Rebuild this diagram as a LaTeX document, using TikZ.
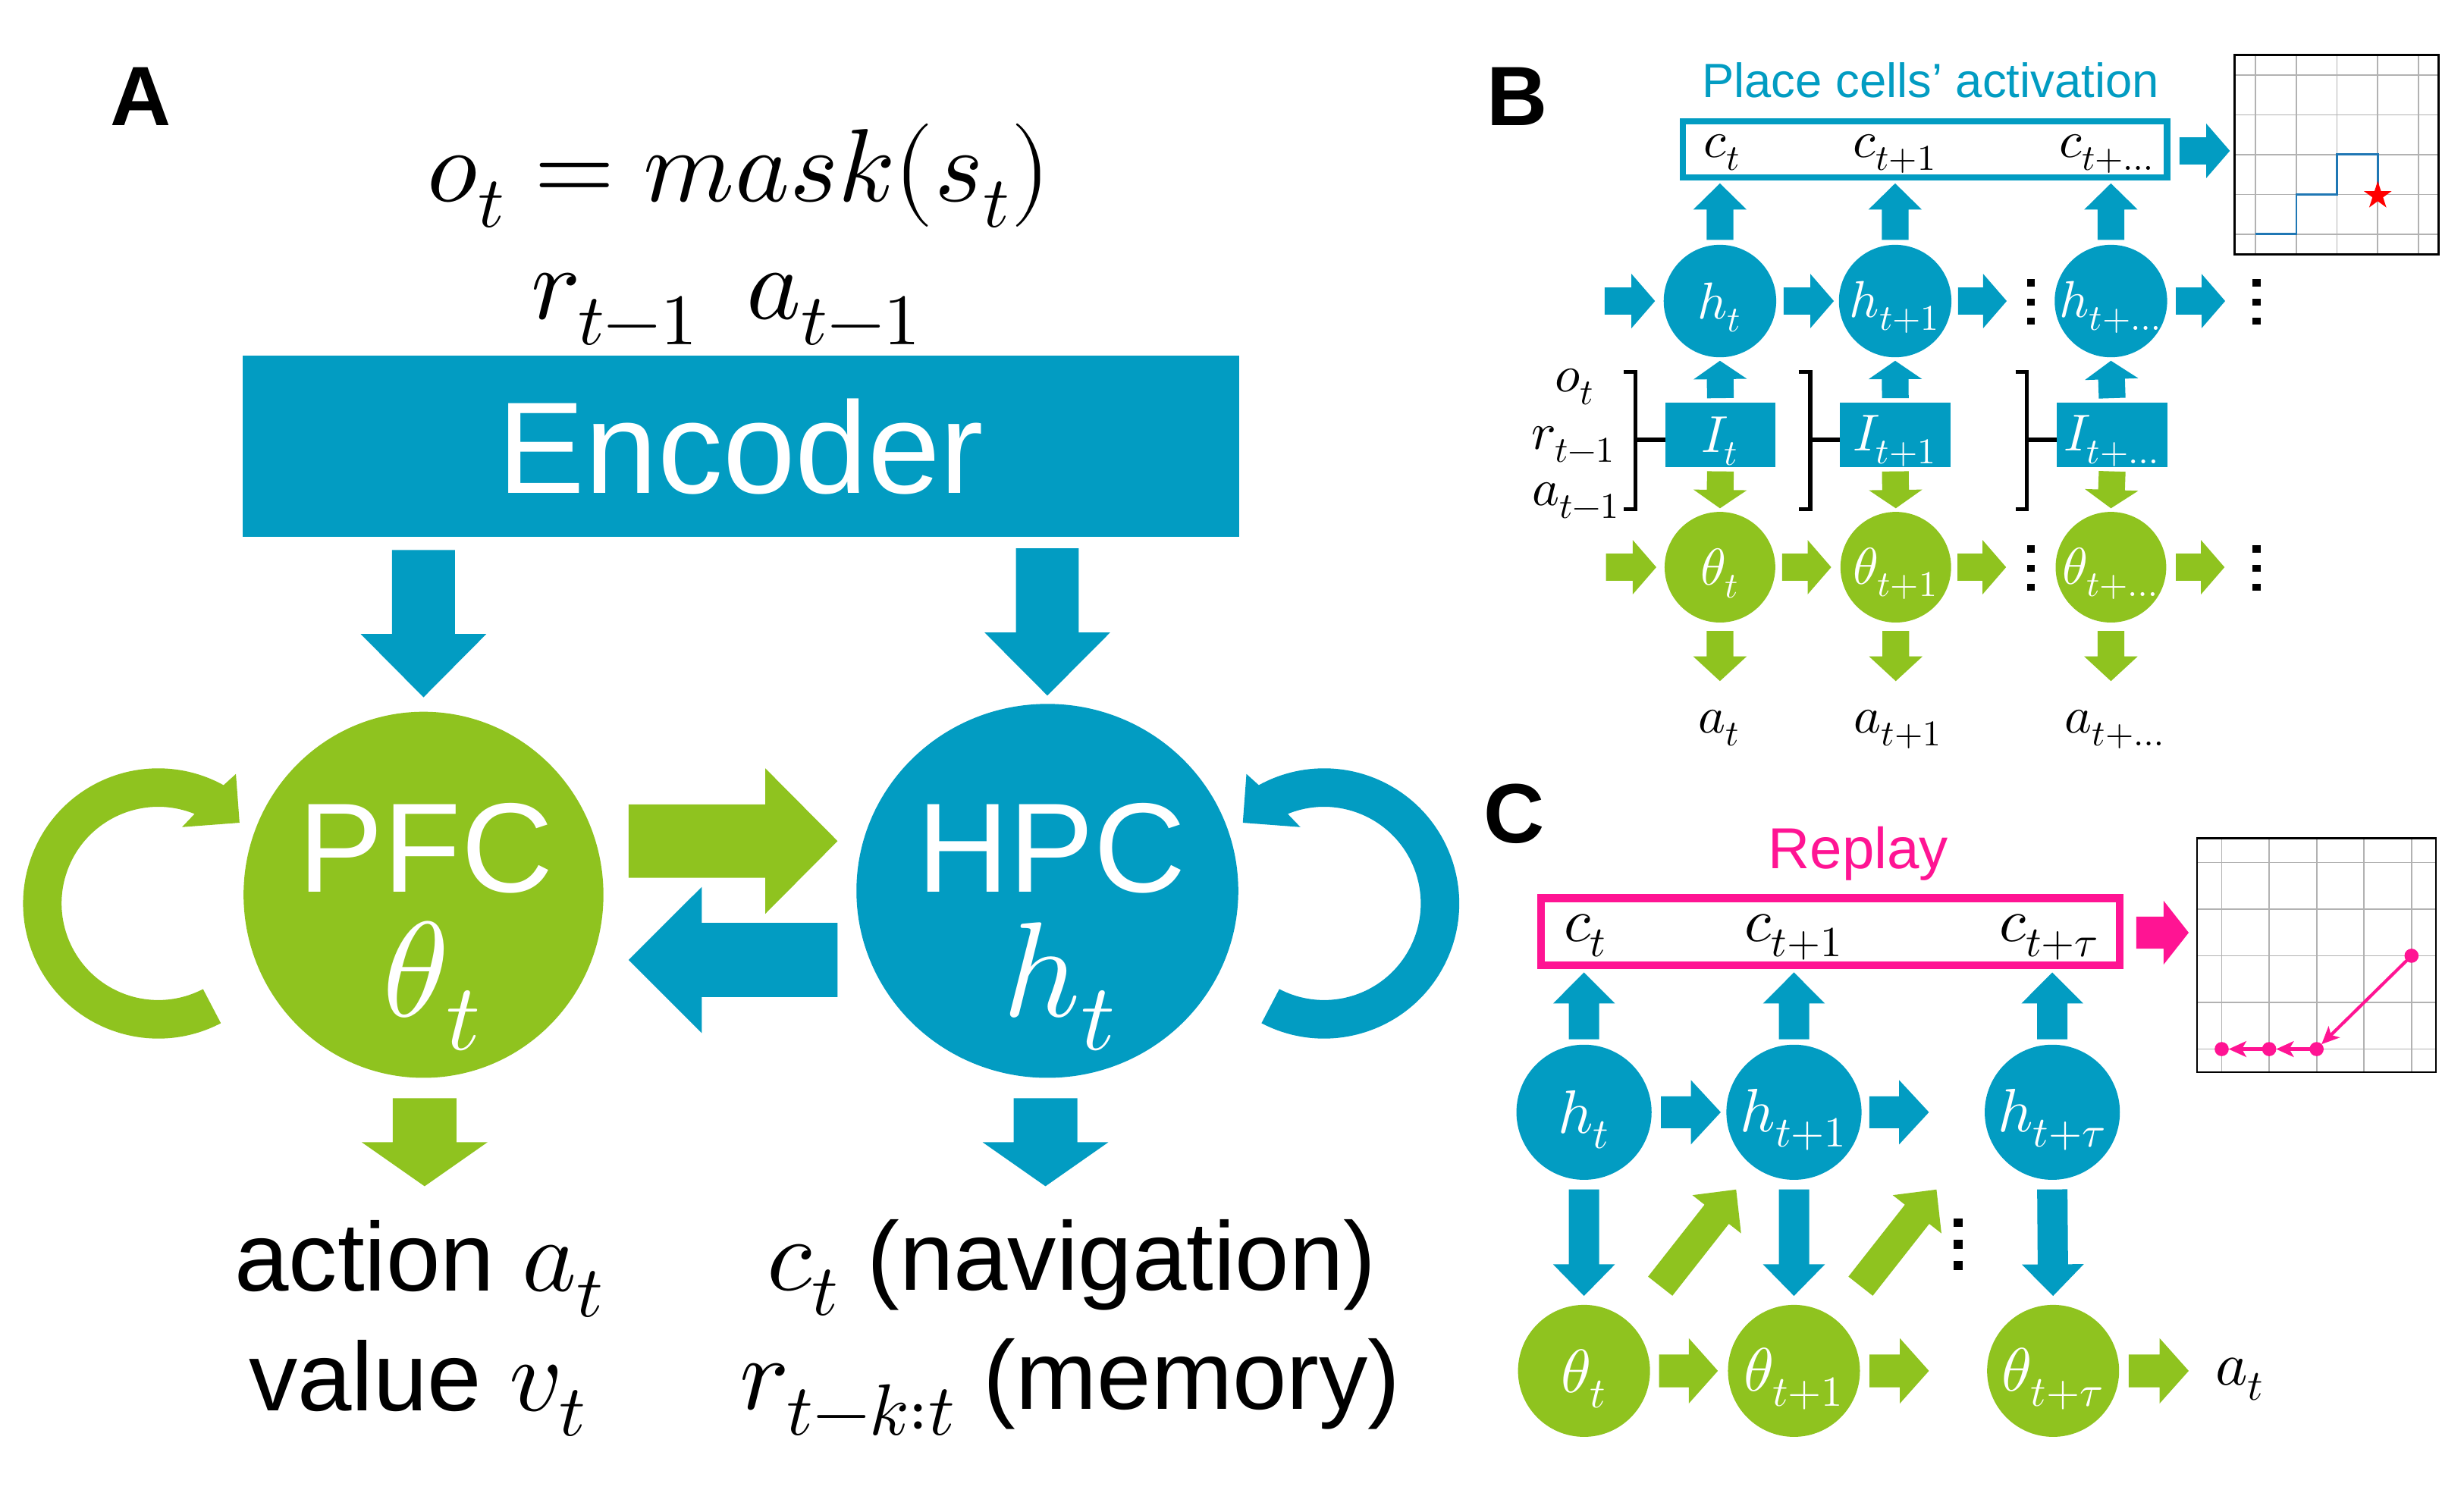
\documentclass[tikz,border=0pt]{standalone}
\usepackage{fontspec}
\usepackage{unicode-math}
\setmathfont{Latin Modern Math}
\newfontfamily\arial{Liberation Sans}
\usetikzlibrary{calc,shapes.geometric,arrows.meta}
\definecolor{cblue}{RGB}{2,156,194}
\definecolor{cgreen}{RGB}{143,195,31}
\definecolor{cpink}{RGB}{255,20,147}
\definecolor{pathblue}{RGB}{31,119,180}
\definecolor{gridgray}{RGB}{178,178,178}
% block arrow: #1 colour, #2 start, #3 tip, #4 shaft width, #5 head width, #6 head length (px)
\newcommand{\barr}[6]{%
  \fill[#1] let \p1=#2, \p2=#3, \n1={atan2(\y2-\y1,\x2-\x1)} in
    ($(\p1)+({\n1+90}:{#4*0.25pt})$)
    -- ($(\p2)+({\n1+180}:{#6*0.5pt})+({\n1+90}:{#4*0.25pt})$)
    -- ($(\p2)+({\n1+180}:{#6*0.5pt})+({\n1+90}:{#5*0.25pt})$)
    -- (\p2)
    -- ($(\p2)+({\n1+180}:{#6*0.5pt})+({\n1-90}:{#5*0.25pt})$)
    -- ($(\p2)+({\n1+180}:{#6*0.5pt})+({\n1-90}:{#4*0.25pt})$)
    -- ($(\p1)+({\n1-90}:{#4*0.25pt})$) -- cycle;}
\newcommand{\vdts}[5]{% x, y, spacing, w, h
  \foreach \dy in {-#3,0,#3}{\fill (#1-#4/2,#2+\dy-#5/2) rectangle ++(#4,#5);}}
\begin{document}
\begin{tikzpicture}[x=0.5pt,y=-0.5pt,
  every node/.style={inner sep=0pt,outer sep=0pt},
  lab/.style={font=\arial\bfseries\fontsize{26.8}{30}\selectfont,anchor=base west},
  mathA/.style={font=\fontsize{33}{38}\selectfont,anchor=base},
  txtA/.style={font=\arial\fontsize{31}{36}\selectfont,anchor=base},
  bigtxt/.style={font=\arial\fontsize{40.5}{46}\selectfont,text=white,anchor=base},
  bigmath/.style={font=\fontsize{43}{48}\selectfont,text=white,anchor=base},
  mB/.style={font=\fontsize{16.5}{19}\selectfont},
  wB/.style={font=\fontsize{16.5}{19}\selectfont,text=white,yshift=-2pt},
  mC/.style={font=\fontsize{19.5}{22}\selectfont},
  wC/.style={font=\fontsize{19.5}{22}\selectfont,text=white,yshift=-2.5pt},
  circ/.style={circle,minimum size=#1},
  brk/.style={draw=black,line width=1.3pt,line join=miter},
  gridln/.style={draw=gridgray,line width=0.4pt},
  gbox/.style={rectangle,draw=black,line width=0.6pt},
  pinkarr/.style={draw=cpink,line width=1pt,-{Stealth[length=5.6pt,width=5pt,inset=1.4pt]},shorten >=2.2pt}
]
\useasboundingbox (0,0) rectangle (1568,950);

% ================= Panel A =================
\node[lab] (labA) at (70,80) {A};
\node[mathA] (obs) at (470.5,128) {$o_t = mask(s_t)$};
\node[mathA,anchor=base west] (rprev) at (338,203) {$r_{t-1}$};
\node[mathA,anchor=base west] (aprev) at (475,203) {$a_{t-1}$};

\node[rectangle,fill=cblue,minimum width=317.05pt,minimum height=57.6pt,
      font=\arial\fontsize{41.5}{48}\selectfont,text=white] (enc) at (471.55,284.1) {Encoder};

\node[ellipse,fill=cgreen,minimum width=114.5pt,minimum height=116.5pt] (pfc) at (269.5,569.5) {};
\node[ellipse,fill=cblue,minimum width=121.5pt,minimum height=119pt] (hpc) at (666.5,567) {};
\node[bigtxt] (pfcT) at (271,568) {PFC};
\node[bigmath] (pfcM) at (275,647) {$\theta_t$};
\node[bigtxt] (hpcT) at (669,568) {HPC};
\node[bigmath] (hpcM) at (674.5,647) {$h_t$};

\barr{cblue}{($(enc.south -| pfc.center)+(0,8.3)$)}{($(pfc.north)+(0,-9.2)$)}{40}{80}{40.3}
\barr{cblue}{($(enc.south -| hpc.center)+(0,7.3)$)}{($(hpc.north)+(0,-5.3)$)}{40}{80}{40.2}
\barr{cgreen}{($(pfc.center)+(130.5,-34.2)$)}{($(hpc.center)+(-133.5,-31.7)$)}{46.7}{92.6}{46}
\barr{cblue}{($(hpc.center)+(-133.5,44)$)}{($(pfc.center)+(130.5,41.5)$)}{47.2}{93.1}{46.6}
\barr{cgreen}{($(pfc.south)+(0.7,13)$)}{($(pfc.south)+(0.7,69)$)}{40.5}{80}{28}
\barr{cblue}{($(hpc.south)+(-1.2,13)$)}{($(hpc.south)+(-1.2,69)$)}{40.5}{80}{28}

% self loops
\begin{scope}[shift={(100.7,575)}]
\fill[cgreen] (62.4:86) arc[start angle=62.4,end angle=298.9,radius=86]
  -- (300.95:96.1) -- (315.2:72.9) -- (287.3:50.9) -- (292.1:61.5)
  arc[start angle=292.1,end angle=62.4,radius=61.5] -- cycle;
\end{scope}
\begin{scope}[shift={(842.6,575)}]
\fill[cblue] (117.6:86) arc[start angle=117.6,end angle=-118.9,radius=86]
  -- (-120.95:96.1) -- (-135.2:72.9) -- (-107.3:50.9) -- (-112.1:61.5)
  arc[start angle=-112.1,end angle=117.6,radius=61.5] -- cycle;
\end{scope}

\node[txtA] (act) at (267,821.7) {action {\fontsize{33}{38}\selectfont$a_t$}};
\node[txtA] (val) at (266,897.7) {value {\fontsize{33}{38}\selectfont$v_t$}};
\node[txtA] (nav) at (682,821) {{\fontsize{33}{38}\selectfont$c_t$} (navigation)};
\node[txtA] (mem) at (681,897) {{\fontsize{33}{38}\selectfont$r_{t-k:t}$} (memory)};

% ================= Panel B =================
\node[lab] (labB) at (946,80) {B};
\node[font=\arial\fontsize{15.3}{18}\selectfont,text=cblue,anchor=base] (pcTitle) at (1228.5,62) {Place cells’ activation};
\node[rectangle,draw=cblue,line width=2pt,minimum width=154pt,minimum height=17.85pt] (cB) at (1225,95.15) {};
\node[mB,anchor=base] (clB1) at (1096,100.3) {$c_t$};
\node[mB,anchor=base] (clB2) at (1206,100.3) {$c_{t+1}$};
\node[mB,anchor=base] (clB3) at (1341,100.3) {$c_{t+\ldots}$};

% grid B
\foreach \i in {0,...,4}{
  \draw[gridln] (1435.4+25.9*\i,35) -- (1435.4+25.9*\i,161.8);
  \draw[gridln] (1422,47.8+25.3*\i) -- (1551.7,47.8+25.3*\i);}
\node[gbox,minimum width=64.85pt,minimum height=63.4pt] (gB) at (1486.85,98.4) {};
\draw[pathblue,line width=0.7pt] (1435.4,149) -- (1461.3,149) -- (1461.3,123.7) -- (1487.2,123.7)
  -- (1487.2,98.4) -- (1513.1,98.4) -- (1513.1,123.7);
\node[star,star points=5,star point ratio=2.618,fill=red,minimum size=9.3pt] (starB) at (1513.1,124.5) {};
\barr{cblue}{($(cB.east)+(8,0.85)$)}{($(gB.west |- cB.east)+(-3,0.85)$)}{17.2}{34.6}{15}

% nodes B
\node[circ=35.8pt,fill=cblue] (hB1) at (1094.5,191.6) {};
\node[circ=35.8pt,fill=cblue] (hB2) at (1206,191.6) {};
\node[circ=35.8pt,fill=cblue] (hB3) at (1343.3,191.6) {};
\node[wB] (hB1t) at (hB1) {$h_t$};
\node[wB] (hB2t) at (hB2) {$h_{t+1}$};
\node[wB] (hB3t) at (hB3) {$h_{t+\ldots}$};
\node[rectangle,fill=cblue,minimum width=35.2pt,minimum height=20.45pt] (IB1) at (1094.8,276.75) {};
\node[rectangle,fill=cblue,minimum width=35.2pt,minimum height=20.45pt] (IB2) at (1206.1,276.75) {};
\node[rectangle,fill=cblue,minimum width=35.2pt,minimum height=20.45pt] (IB3) at (1344.1,276.75) {};
\node[wB] (IB1t) at (IB1) {$I_t$};
\node[wB] (IB2t) at (IB2) {$I_{t+1}$};
\node[wB] (IB3t) at (IB3) {$I_{t+\ldots}$};
\node[circ=35.2pt,fill=cgreen] (thB1) at (1094.5,361) {};
\node[circ=35.2pt,fill=cgreen] (thB2) at (1206.4,361) {};
\node[circ=35.2pt,fill=cgreen] (thB3) at (1343.3,361) {};
\node[wB] (thB1t) at (thB1) {$\theta_t$};
\node[wB] (thB2t) at (thB2) {$\theta_{t+1}$};
\node[wB] (thB3t) at (thB3) {$\theta_{t+\ldots}$};

\node[mB,anchor=base east] (inO) at (1015,249.4) {$o_t$};
\node[mB,anchor=base east] (inR) at (1028.4,285.8) {$r_{t-1}$};
\node[mB,anchor=base east] (inA) at (1031.2,321.5) {$a_{t-1}$};
\node[mB,anchor=base] (aB1) at (1094,466.6) {$a_t$};
\node[mB,anchor=base] (aB2) at (1208,466.6) {$a_{t+1}$};
\node[mB,anchor=base] (aB3) at (1346,466.6) {$a_{t+\ldots}$};

% brackets
\foreach \n in {IB1,IB2,IB3}{
  \draw[brk] ($(\n.west)+(-26.3,-39.95)$) -- ++(7.3,0) -- ++(0,87.4) -- ++(-7.3,0);
  \draw[brk] ($(\n.west)+(-19,3.15)$) -- ($(\n.west)+(0,3.15)$);}

% vertical arrows B
\foreach \k in {1,2,3}{
  \barr{cblue}{($(hB\k.north)+(0,-3.1)$)}{($(hB\k.north |- cB.south)+(0,3.7)$)}{17}{34}{16.7}
  \barr{cblue}{($(IB\k.north)+(0,-2.9)$)}{($(hB\k.south)+(0,2.2)$)}{17}{34}{11.7}
  \barr{cgreen}{($(IB\k.south)+(0,2.8)$)}{($(thB\k.north)+(0,-2.3)$)}{17}{34}{11.7}
  \barr{cgreen}{($(thB\k.south)+(0,5.4)$)}{($(thB\k.south)+(0,37.3)$)}{17}{34}{15.7}}

% horizontal arrows B
\barr{cblue}{($(hB1.west)+(-37.6,0)$)}{($(hB1.west)+(-5.5,0)$)}{17.3}{34.6}{15}
\barr{cblue}{($(hB1.east)+(4.7,0)$)}{($(hB2.west)+(-3.2,0)$)}{17.3}{34.6}{15}
\barr{cblue}{($(hB2.east)+(4.2,0)$)}{($(hB2.east)+(35.2,0)$)}{17.3}{34.6}{15}
\barr{cblue}{($(hB3.east)+(5.5,0)$)}{($(hB3.east)+(36.9,0)$)}{17.3}{34.6}{15}
\barr{cgreen}{($(thB1.west)+(-37.3,0)$)}{($(thB1.west)+(-5.3,0)$)}{17.3}{34.6}{15}
\barr{cgreen}{($(thB1.east)+(4.3,0)$)}{($(thB2.west)+(-5.9,0)$)}{17.3}{34.6}{15}
\barr{cgreen}{($(thB2.east)+(4,0)$)}{($(thB2.east)+(35,0)$)}{17.3}{34.6}{15}
\barr{cgreen}{($(thB3.east)+(6.1,0)$)}{($(thB3.east)+(37.1,0)$)}{17.3}{34.6}{15}

\vdts{1292.5}{192.1}{12.1}{5}{4.4}
\vdts{1436}{192.1}{12.1}{5}{4.4}
\vdts{1292.5}{361.5}{12.1}{5}{4.4}
\vdts{1436}{361.5}{12.1}{5}{4.4}

% ================= Panel C =================
\node[lab] (labC) at (944.4,536.5) {C};
\node[font=\arial\fontsize{18.4}{21}\selectfont,text=cpink,anchor=base] (rpTitle) at (1182.5,552.6) {Replay};
\node[rectangle,draw=cpink,line width=2.55pt,minimum width=184.1pt,minimum height=21.4pt] (cC) at (1164.7,593) {};
\node[mC,anchor=base] (clC1) at (1009,599.3) {$c_t$};
\node[mC,anchor=base] (clC2) at (1141.7,599.3) {$c_{t+1}$};
\node[mC,anchor=base] (clC3) at (1304,599.3) {$c_{t+\tau}$};

% grid C
\foreach \i in {0,...,4}{
  \draw[gridln] (1413.8+30.2*\i,533.6) -- (1413.8+30.2*\i,682.4);
  \draw[gridln] (1398,548.9+29.7*\i) -- (1550,548.9+29.7*\i);}
\node[gbox,minimum width=76pt,minimum height=74.4pt] (gC) at (1474,608) {};
\coordinate (d0) at (1534.6,608.3);
\coordinate (d1) at (1474.2,667.7);
\coordinate (d2) at (1444,667.7);
\coordinate (d3) at (1413.8,667.7);
\draw[pinkarr] (d0) -- (d1);
\draw[pinkarr] (d1) -- (d2);
\draw[pinkarr] (d2) -- (d3);
\foreach \d in {d0,d1,d2,d3}{\fill[cpink] (\d) circle[radius=4.5];}
\barr{cpink}{($(cC.east)+(10.6,0.6)$)}{($(gC.west |- cC.east)+(-5.2,0.6)$)}{20.3}{40.7}{16}

% nodes C
\node[circ=43pt,fill=cblue] (hC1) at (1008,707.9) {};
\node[circ=43pt,fill=cblue] (hC2) at (1141.6,707.9) {};
\node[circ=43pt,fill=cblue] (hC3) at (1306,707.9) {};
\node[wC] (hC1t) at (hC1) {$h_t$};
\node[wC] (hC2t) at (hC2) {$h_{t+1}$};
\node[wC] (hC3t) at (hC3) {$h_{t+\tau}$};
\node[circ=42pt,fill=cgreen] (thC1) at (1008,872.5) {};
\node[circ=42pt,fill=cgreen] (thC2) at (1141.6,872.5) {};
\node[circ=42pt,fill=cgreen] (thC3) at (1306.5,872.5) {};
\node[wC] (thC1t) at (thC1) {$\theta_t$};
\node[wC] (thC2t) at (thC2) {$\theta_{t+1}$};
\node[wC] (thC3t) at (thC3) {$\theta_{t+\tau}$};
\node[mC,anchor=base west] (aC) at (1409.7,881.6) {$a_t$};

\foreach \k in {1,2,3}{
  \barr{cblue}{($(hC\k.north)+(0,-3.4)$)}{($(hC\k.north |- cC.south)+(0,4.5)$)}{19.3}{39.4}{19.8}
  \barr{cblue}{($(hC\k.south)+(0,6.1)$)}{($(thC\k.north)+(0,-5.7)$)}{19.3}{39.4}{20.1}}

\barr{cblue}{($(hC1.east)+(6,0)$)}{($(hC2.west)+(-3.6,0)$)}{20.3}{41}{19}
\barr{cblue}{($(hC2.east)+(5,0)$)}{($(hC2.east)+(42.9,0)$)}{20.3}{41}{19}
\barr{cgreen}{($(thC1.east)+(5.7,0)$)}{($(thC2.west)+(-6.4,0)$)}{20.9}{41.5}{18.5}
\barr{cgreen}{($(thC2.east)+(6.1,0)$)}{($(thC2.east)+(43.9,0)$)}{20.9}{41.5}{18.5}
\barr{cgreen}{($(thC3.east)+(6.1,0)$)}{($(aC.west |- thC3.east)+(-16.9,0)$)}{20.9}{41.5}{18.5}
\barr{cgreen}{($(thC1.center)+(48.5,-53.9)$)}{($(hC2.center)+(-36.8,49.2)$)}{19.7}{39.4}{20}
\barr{cgreen}{($(thC2.center)+(42.4,-53.9)$)}{($(thC2.center)+(90.7,-115.4)$)}{19.7}{39.4}{20}

\vdts{1246}{791.9}{13.7}{6}{5.6}
\end{tikzpicture}
\end{document}
